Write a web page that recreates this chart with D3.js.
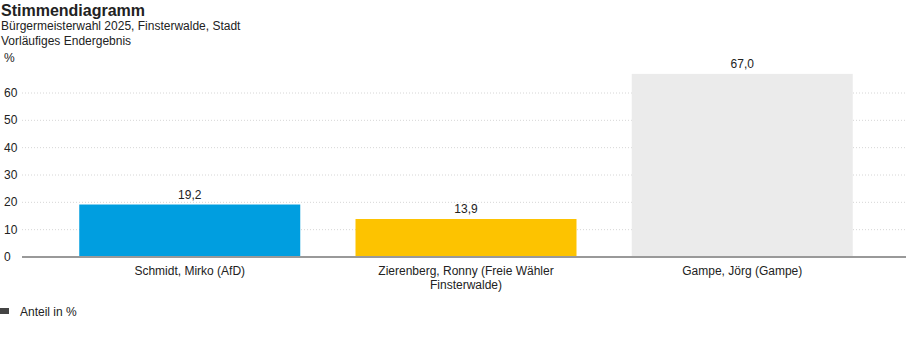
<!DOCTYPE html>
<html lang="de">
<head>
    <meta charset="UTF-8">
    <title>Stimmendiagramm</title>
    <script src="https://d3js.org/d3.v7.min.js"></script>
    <style>
        body { margin: 0; background: #fff; font-family: "Liberation Sans", Arial, sans-serif; }
        svg text { fill: #222; }
        .grid line { stroke: #d6d6d6; stroke-dasharray: 1,2; }
    </style>
</head>
<body>
    <svg id="chart" width="908" height="352"></svg>
    <script>
        // chart data
        var candidates = ["Schmidt, Mirko (AfD)", "Zierenberg, Ronny (Freie Wähler Finsterwalde)", "Gampe, Jörg (Gampe)"];
        var labelLines = [["Schmidt, Mirko (AfD)"], ["Zierenberg, Ronny (Freie Wähler", "Finsterwalde)"], ["Gampe, Jörg (Gampe)"]];
        var shares = [19.2, 13.9, 67.0];
        var barColors = ["#009ee0", "#fdc300", "#ebebeb"];
        var yTicks = [0, 10, 20, 30, 40, 50, 60];

        var svg = d3.select("#chart");

        // titles
        svg.append("text").attr("x", 1).attr("y", 16)
            .style("font-size", "16px").style("font-weight", "bold").text("Stimmendiagramm");
        svg.append("text").attr("x", 1).attr("y", 30)
            .style("font-size", "12px").text("Bürgermeisterwahl 2025, Finsterwalde, Stadt");
        svg.append("text").attr("x", 1).attr("y", 45)
            .style("font-size", "12px").text("Vorläufiges Endergebnis");
        svg.append("text").attr("x", 4).attr("y", 62)
            .style("font-size", "12px").text("%");

        var x = d3.scaleBand()
            .domain(candidates)
            .range([24, 908])
            .paddingInner(0.2)
            .paddingOuter(0.2);

        var y = d3.scaleLinear()
            .domain([0, 60])
            .range([257, 93]);

        // gridlines
        svg.append("g").attr("class", "grid")
            .selectAll("line")
            .data(yTicks.filter(d => d > 0))
            .enter().append("line")
            .attr("x1", 22).attr("x2", 906)
            .attr("y1", d => y(d)).attr("y2", d => y(d));

        // y labels
        svg.append("g").selectAll("text")
            .data(yTicks)
            .enter().append("text")
            .attr("x", 4)
            .attr("y", d => y(d) + 4)
            .style("font-size", "12px")
            .text(d => d);

        // bars
        svg.append("g").selectAll("rect")
            .data(shares)
            .enter().append("rect")
            .attr("x", (d, i) => x(candidates[i]))
            .attr("width", x.bandwidth())
            .attr("y", d => y(d))
            .attr("height", d => y(0) - y(d))
            .attr("fill", (d, i) => barColors[i]);

        // value labels
        svg.append("g").selectAll("text")
            .data(shares)
            .enter().append("text")
            .attr("x", (d, i) => x(candidates[i]) + x.bandwidth() / 2)
            .attr("y", d => y(d) - 6)
            .attr("text-anchor", "middle")
            .style("font-size", "12px")
            .text(d => d3.format(".1f")(d).replace(".", ","));

        // baseline
        svg.append("line")
            .attr("x1", 22).attr("x2", 906)
            .attr("y1", y(0)).attr("y2", y(0))
            .attr("stroke", "#999").attr("stroke-width", 2);

        // category labels
        var cat = svg.append("g").selectAll("text")
            .data(labelLines)
            .enter().append("text")
            .attr("x", (d, i) => x(candidates[i]) + x.bandwidth() / 2)
            .attr("y", 275)
            .attr("text-anchor", "middle")
            .style("font-size", "12px");
        cat.selectAll("tspan")
            .data(d => d)
            .enter().append("tspan")
            .attr("x", function() { return d3.select(this.parentNode).attr("x"); })
            .attr("dy", (d, i) => i === 0 ? 0 : 14)
            .text(d => d);

        // legend
        svg.append("rect").attr("x", 0).attr("y", 308).attr("width", 9).attr("height", 6).attr("fill", "#444");
        svg.append("text").attr("x", 20).attr("y", 316)
            .style("font-size", "12px").text("Anteil in %");
    </script>
</body>
</html>
